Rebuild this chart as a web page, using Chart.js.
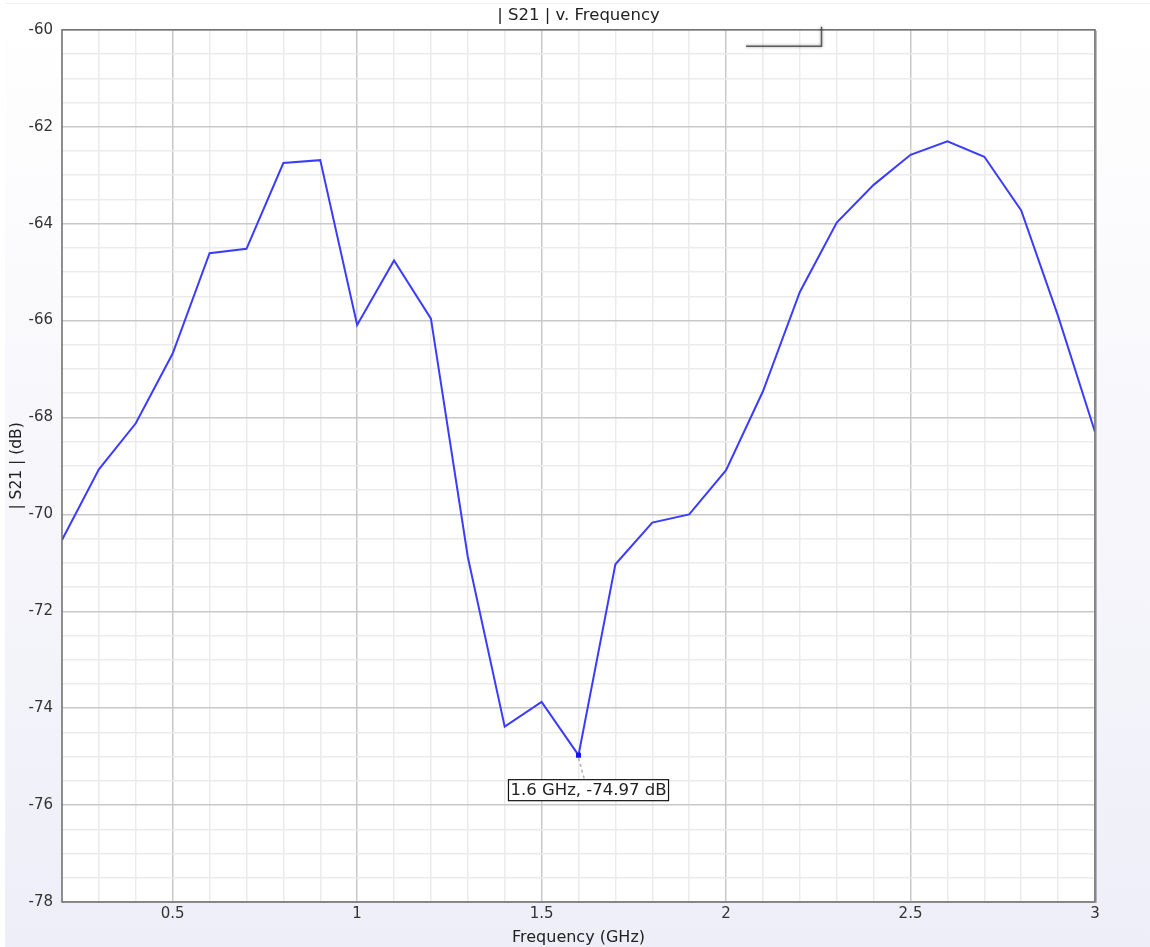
<!DOCTYPE html>
<html>
<head>
<meta charset="utf-8">
<script src="https://cdn.jsdelivr.net/npm/chart.js@4"></script>
<style>
  html, body { margin: 0; padding: 0; background: #ffffff; }
  #wrap { width: 1150px; height: 947px; }
</style>
</head>
<body>
<div id="wrap"><canvas id="c" width="1150" height="947"></canvas></div>
<script>
// Frequency sweep (GHz) and measured |S21| (dB)
const frequencyGHz = [0.2, 0.3, 0.4, 0.5, 0.6, 0.7, 0.8, 0.9, 1.0, 1.1,
                      1.2, 1.3, 1.4, 1.5, 1.6, 1.7, 1.8, 1.9, 2.0, 2.1,
                      2.2, 2.3, 2.4, 2.5, 2.6, 2.7, 2.8, 2.9, 3.0];
const s21dB = [-70.53, -69.07, -68.12, -66.68, -64.61, -64.52, -62.75, -62.69, -66.09, -64.76,
               -65.96, -70.88, -74.38, -73.87, -74.97, -71.03, -70.17, -70.00, -69.09, -67.46,
               -65.41, -63.98, -63.20, -62.58, -62.30, -62.62, -63.73, -65.91, -68.30];

// Marked point
const markerFreq = 1.6;
const markerValue = -74.97;
const markerLabel = markerFreq + ' GHz, ' + markerValue.toFixed(2) + ' dB';

// Axis settings
const xRange = [0.2, 3];
const yRange = [-78, -60];
const xMajorStep = 0.5, xMinorStep = 0.1;
const yMajorStep = 2, yMinorStep = 0.5;

const chartTitle = '| S21 | v. Frequency';
const xTitle = 'Frequency (GHz)';
const yTitle = '| S21 | (dB)';

const FONT = '"DejaVu Sans", "Liberation Sans", sans-serif';
const isMultiple = (v, step) => Math.abs(v / step - Math.round(v / step)) < 1e-6;

const points = frequencyGHz.map((f, i) => ({ x: f, y: s21dB[i] }));

// Panel background with soft vertical gradient
const backgroundPlugin = {
  id: 'panelBackground',
  beforeDraw(chart) {
    const { ctx, width, height, chartArea: a } = chart;
    ctx.save();
    ctx.fillStyle = '#ffffff';
    ctx.fillRect(0, 0, width, height);
    const g = ctx.createLinearGradient(0, 4, 0, height);
    g.addColorStop(0, '#ffffff');
    g.addColorStop(0.25, '#fbfbfd');
    g.addColorStop(1, '#eeeef8');
    ctx.fillStyle = g;
    ctx.fillRect(5, 4, width - 5, height - 4);
    ctx.strokeStyle = '#f0f0f6';
    ctx.lineWidth = 1;
    ctx.beginPath();
    ctx.moveTo(5, 3.5);
    ctx.lineTo(width, 3.5);
    ctx.stroke();
    ctx.fillStyle = '#ffffff';
    ctx.fillRect(a.left, a.top, a.right - a.left, a.bottom - a.top);
    ctx.restore();
  }
};

// Plot frame, legend shadow and the value callout
const overlayPlugin = {
  id: 'overlay',
  afterDatasetsDraw(chart) {
    const { ctx, chartArea: a, scales } = chart;
    ctx.save();
    // frame
    ctx.strokeStyle = '#6e6e6e';
    ctx.lineWidth = 1.5;
    ctx.strokeRect(a.left, a.top, a.right - a.left, a.bottom - a.top);
    ctx.strokeStyle = 'rgba(120,120,120,0.5)';
    ctx.lineWidth = 1;
    ctx.beginPath();
    ctx.moveTo(a.right + 1.5, a.top + 1);
    ctx.lineTo(a.right + 1.5, a.bottom + 1);
    ctx.stroke();

    // empty legend box shadow
    ctx.save();
    ctx.strokeStyle = 'rgba(70,70,70,0.85)';
    ctx.lineWidth = 1.5;
    ctx.shadowColor = 'rgba(0,0,0,0.5)';
    ctx.shadowBlur = 3;
    ctx.beginPath();
    ctx.moveTo(a.left + 684, a.top + 16.5);
    ctx.lineTo(a.left + 759.5, a.top + 16.5);
    ctx.lineTo(a.left + 759.5, a.top - 3);
    ctx.stroke();
    ctx.restore();

    // callout for the marked point
    const px = scales.x.getPixelForValue(markerFreq);
    const py = scales.y.getPixelForValue(markerValue);
    const bx = px + 10, by = py + 35;
    ctx.font = '16.5px ' + FONT;
    const tw = ctx.measureText(markerLabel).width;
    const bw = tw + 4, bh = 21;
    ctx.strokeStyle = '#b0b0b0';
    ctx.lineWidth = 1.5;
    ctx.setLineDash([3, 3]);
    ctx.beginPath();
    ctx.moveTo(px, py + 3);
    ctx.lineTo(px + 6, by - bh / 2);
    ctx.stroke();
    ctx.setLineDash([]);
    ctx.fillStyle = '#ffffff';
    ctx.fillRect(bx - bw / 2, by - bh / 2, bw, bh);
    ctx.strokeStyle = '#111111';
    ctx.lineWidth = 1.2;
    ctx.strokeRect(bx - bw / 2, by - bh / 2, bw, bh);
    ctx.fillStyle = '#222222';
    ctx.textAlign = 'center';
    ctx.textBaseline = 'middle';
    ctx.fillText(markerLabel, bx, by + 1);
    ctx.restore();
  }
};

new Chart(document.getElementById('c'), {
  type: 'line',
  data: {
    datasets: [{
      data: points,
      borderColor: '#3c3cff',
      borderWidth: 2,
      backgroundColor: '#1010ff',
      tension: 0,
      fill: false,
      pointStyle: 'rect',
      pointRadius: ctx => (ctx.raw && Math.abs(ctx.raw.x - markerFreq) < 1e-6 ? 3.5 : 0),
      pointBorderWidth: 0,
      pointHoverRadius: 0
    }]
  },
  options: {
    responsive: false,
    animation: false,
    events: [],
    layout: { padding: { left: 5, right: 55, top: 0, bottom: 0 } },
    plugins: {
      legend: { display: false },
      tooltip: { enabled: false },
      title: {
        display: true,
        fullSize: false,
        text: chartTitle,
        color: '#222222',
        font: { family: FONT, size: 16.5, weight: 'normal', lineHeight: 1.2 },
        padding: { top: 6, bottom: 4 }
      }
    },
    scales: {
      x: {
        type: 'linear',
        min: xRange[0],
        max: xRange[1],
        afterFit(scale) { scale.height = 45; },
        ticks: {
          stepSize: xMinorStep,
          autoSkip: false,
          maxRotation: 0,
          padding: 3,
          color: '#333333',
          font: { family: FONT, size: 15 },
          callback: v => (isMultiple(v, xMajorStep) ? String(Math.round(v * 10) / 10) : '')
        },
        grid: {
          drawTicks: false,
          color: ctx => (isMultiple(ctx.tick.value, xMajorStep) ? '#c8c8c8' : '#ebebeb'),
          lineWidth: 1.5
        },
        border: { display: false },
        title: {
          display: true,
          text: xTitle,
          color: '#222222',
          font: { family: FONT, size: 16 },
          padding: { top: 1, bottom: 0 }
        }
      },
      y: {
        type: 'linear',
        min: yRange[0],
        max: yRange[1],
        afterFit(scale) { scale.width = 57; },
        ticks: {
          stepSize: yMinorStep,
          autoSkip: false,
          padding: 9,
          color: '#333333',
          font: { family: FONT, size: 15 },
          callback: v => (isMultiple(v, yMajorStep) ? String(Math.round(v)) : '')
        },
        grid: {
          drawTicks: false,
          color: ctx => (isMultiple(ctx.tick.value, yMajorStep) ? '#c8c8c8' : '#ebebeb'),
          lineWidth: 1.5
        },
        border: { display: false },
        title: {
          display: true,
          text: yTitle,
          color: '#222222',
          font: { family: FONT, size: 15.5 },
          padding: { top: 3, bottom: 0 }
        }
      }
    }
  },
  plugins: [backgroundPlugin, overlayPlugin]
});
</script>
</body>
</html>
